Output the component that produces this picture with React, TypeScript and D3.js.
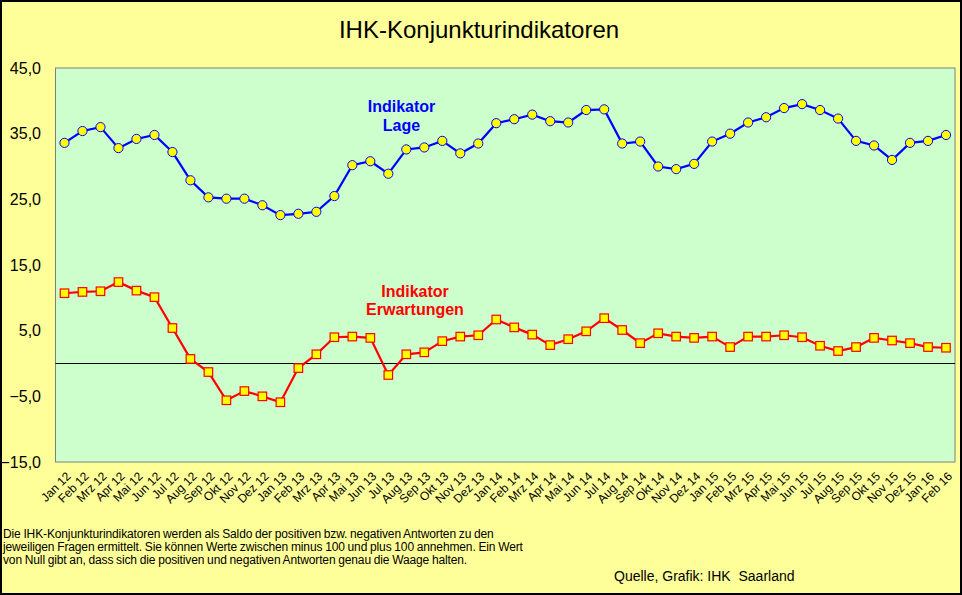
import { useEffect, useRef } from "react"
import * as d3 from "d3"

const months = [
  "Jan 12", "Feb 12", "Mrz 12", "Apr 12", "Mai 12", "Jun 12", "Jul 12", "Aug 12", "Sep 12", "Okt 12", "Nov 12", "Dez 12",
  "Jan 13", "Feb 13", "Mrz 13", "Apr 13", "Mai 13", "Jun 13", "Jul 13", "Aug 13", "Sep 13", "Okt 13", "Nov 13", "Dez 13",
  "Jan 14", "Feb 14", "Mrz 14", "Apr 14", "Mai 14", "Jun 14", "Jul 14", "Aug 14", "Sep 14", "Okt 14", "Nov 14", "Dez 14",
  "Jan 15", "Feb 15", "Mrz 15", "Apr 15", "Mai 15", "Jun 15", "Jul 15", "Aug 15", "Sep 15", "Okt 15", "Nov 15", "Dez 15",
  "Jan 16", "Feb 16",
]

const lage = [
  33.6, 35.4, 36.0, 32.8, 34.2, 34.8, 32.2, 27.9, 25.3, 25.1, 25.1, 24.1,
  22.6, 22.8, 23.1, 25.5, 30.2, 30.8, 28.9, 32.6, 32.9, 33.9, 32.0, 33.5,
  36.6, 37.2, 37.9, 36.9, 36.7, 38.6, 38.7, 33.5, 33.8, 30.0, 29.6, 30.4,
  33.8, 35.0, 36.7, 37.5, 38.9, 39.5, 38.6, 37.3, 33.9, 33.2, 31.0, 33.6,
  33.9, 34.8,
]

const erwartungen = [
  10.7, 10.9, 11.0, 12.4, 11.1, 10.1, 5.4, 0.7, -1.3, -5.6, -4.2, -5.0,
  -5.9, -0.7, 1.4, 4.0, 4.1, 3.9, -1.75, 1.4, 1.7, 3.4, 4.1, 4.3,
  6.7, 5.5, 4.4, 2.8, 3.7, 4.9, 6.9, 5.1, 3.1, 4.6, 4.1, 3.9,
  4.1, 2.5, 4.1, 4.1, 4.3, 4.0, 2.7, 1.9, 2.5, 3.9, 3.5, 3.1,
  2.5, 2.4,
]

const yTicks = [-15, -5, 5, 15, 25, 35, 45]

const footnote = [
  "Die IHK-Konjunkturindikatoren werden als Saldo der positiven bzw. negativen Antworten zu den",
  "jeweiligen Fragen ermittelt. Sie können Werte zwischen minus 100 und plus 100 annehmen. Ein Wert",
  "von Null gibt an, dass sich die positiven und negativen Antworten genau die Waage halten.",
]

const W = 962
const H = 595
const FONT = "Arial, 'Liberation Sans', sans-serif"

export default function App() {
  const svgRef = useRef<SVGSVGElement>(null)

  useEffect(() => {
    document.body.style.margin = "0"
    if (!svgRef.current) return
    const svg = d3.select(svgRef.current)
    svg.selectAll("*").remove()

    const plot = { left: 55.5, right: 955, top: 68, bottom: 462 }

    const x = d3.scaleBand<string>().domain(months).range([plot.left, plot.right]).padding(0)
    const y = d3.scaleLinear().domain([-15, 45]).range([plot.bottom, plot.top])
    const cx = (m: string) => (x(m) ?? 0) + x.bandwidth() / 2

    // background + outer frame
    svg.append("rect")
      .attr("x", 1).attr("y", 1)
      .attr("width", W - 2).attr("height", H - 2)
      .attr("fill", "#FFFF99")
      .attr("stroke", "#000")
      .attr("stroke-width", 2)

    // plot area
    svg.append("rect")
      .attr("x", plot.left).attr("y", plot.top)
      .attr("width", plot.right - plot.left).attr("height", plot.bottom - plot.top)
      .attr("fill", "#CCFFCC")
      .attr("stroke", "#808080")
      .attr("stroke-width", 1)

    // zero line
    svg.append("line")
      .attr("x1", plot.left).attr("x2", plot.right)
      .attr("y1", y(0)).attr("y2", y(0))
      .attr("stroke", "#000")
      .attr("stroke-width", 1)

    // title
    svg.append("text")
      .attr("x", 479).attr("y", 38)
      .attr("text-anchor", "middle")
      .attr("font-family", FONT)
      .attr("font-size", 24)
      .attr("fill", "#000")
      .text("IHK-Konjunkturindikatoren")

    // y labels
    svg.append("g")
      .selectAll("text")
      .data(yTicks)
      .enter()
      .append("text")
      .attr("x", 41)
      .attr("y", (d: number) => y(d))
      .attr("dy", "0.36em")
      .attr("text-anchor", "end")
      .attr("font-family", FONT)
      .attr("font-size", 16)
      .attr("fill", "#000")
      .text((d: number) => d3.format(".1f")(d).replace(".", ","))

    // x labels, rotated
    svg.append("g")
      .selectAll("text")
      .data(months)
      .enter()
      .append("text")
      .attr("transform", (d: string) => `translate(${cx(d) + 4},${plot.bottom + 12}) rotate(-45)`)
      .attr("dy", "0.35em")
      .attr("text-anchor", "end")
      .attr("font-family", FONT)
      .attr("font-size", 12)
      .attr("fill", "#000")
      .text((d: string) => d)

    const line = d3.line<number>()
      .x((_: number, i: number) => cx(months[i]))
      .y((d: number) => y(d))

    // Lage series
    svg.append("path")
      .datum(lage)
      .attr("d", line)
      .attr("fill", "none")
      .attr("stroke", "#0000FF")
      .attr("stroke-width", 2.2)

    svg.append("g")
      .selectAll("circle")
      .data(lage)
      .enter()
      .append("circle")
      .attr("cx", (_: number, i: number) => cx(months[i]))
      .attr("cy", (d: number) => y(d))
      .attr("r", 4.6)
      .attr("fill", "#FFFF00")
      .attr("stroke", "#0000FF")
      .attr("stroke-width", 1)

    // Erwartungen series
    svg.append("path")
      .datum(erwartungen)
      .attr("d", line)
      .attr("fill", "none")
      .attr("stroke", "#FF0000")
      .attr("stroke-width", 2.2)

    const sq = 8.5
    svg.append("g")
      .selectAll("rect")
      .data(erwartungen)
      .enter()
      .append("rect")
      .attr("x", (_: number, i: number) => cx(months[i]) - sq / 2)
      .attr("y", (d: number) => y(d) - sq / 2)
      .attr("width", sq)
      .attr("height", sq)
      .attr("fill", "#FFFF00")
      .attr("stroke", "#FF0000")
      .attr("stroke-width", 1.2)

    // series annotations
    const note = (lines: string[], xc: number, y0: number, color: string) => {
      lines.forEach((t, i) => {
        svg.append("text")
          .attr("x", xc).attr("y", y0 + i * 18.5)
          .attr("text-anchor", "middle")
          .attr("font-family", FONT)
          .attr("font-size", 16)
          .attr("font-weight", "bold")
          .attr("fill", color)
          .text(t)
      })
    }
    note(["Indikator", "Lage"], 401.5, 112, "#0000FF")
    note(["Indikator", "Erwartungen"], 415, 296.5, "#FF0000")

    // footnote
    footnote.forEach((t, i) => {
      svg.append("text")
        .attr("x", 3).attr("y", 538 + i * 13)
        .attr("font-family", FONT)
        .attr("font-size", 12)
        .attr("letter-spacing", -0.13)
        .attr("word-spacing", -0.4)
        .attr("fill", "#000")
        .text(t)
    })

    svg.append("text")
      .attr("x", 614).attr("y", 581)
      .attr("font-family", FONT)
      .attr("font-size", 14)
      .attr("fill", "#000")
      .style("white-space", "pre")
      .text("Quelle, Grafik: IHK  Saarland")
  }, [])

  return <svg ref={svgRef} width={W} height={H} style={{ display: "block" }} />
}
